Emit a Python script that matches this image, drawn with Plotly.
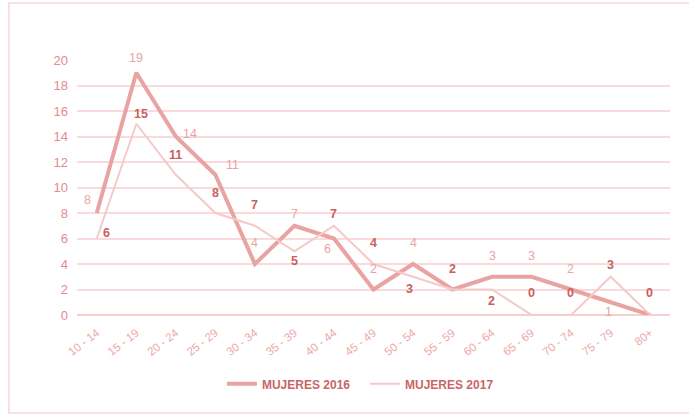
import plotly.graph_objects as go

categories = ["10 - 14", "15 - 19", "20 - 24", "25 - 29", "30 - 34", "35 - 39", "40 - 44",
              "45 - 49", "50 - 54", "55 - 59", "60 - 64", "65 - 69", "70 - 74", "75 - 79", "80+"]
mujeres_2016 = [8, 19, 14, 11, 4, 7, 6, 2, 4, 2, 3, 3, 2, 1, 0]
mujeres_2017 = [6, 15, 11, 8, 7, 5, 7, 4, 3, 2, 2, 0, 0, 3, 0]
y_ticks = [0, 2, 4, 6, 8, 10, 12, 14, 16, 18, 20]

# label visibility / pixel offsets (style)
show_2016 = [True] * 9 + [False] + [True] * 4 + [False]
dx_2016 = [-9, 0, 14, 17, 0, 0, -6, 0, 0, 0, 0, 0, -1, -2, 0]
dy_2016 = [13, 15, 3, 10, 21, 12, -10, 21, 21, 0, 21, 21, 21, -10, 0]
dx_2017 = [10, 5, 0, 0, 0, 0, 0, 0, -4, 0, -1, 0, -1, 0, -1]
dy_2017 = [6, 10, 20, 20, 21, -10, 12, 21, -12, 21, -11, 22, 22, 12, 22]

FONT = "Liberation Sans"
C16 = "#E9A3A3"
C17 = "#F6C9C9"
LBL16 = "#E9A4A4"
LBL17 = "#C85F5F"

fig = go.Figure()
fig.add_trace(go.Scatter(
    x=categories, y=mujeres_2016, mode="lines", name="<b>MUJERES 2016</b>&nbsp;&nbsp;&nbsp;",
    line=dict(color=C16, width=4),
))
fig.add_trace(go.Scatter(
    x=categories, y=mujeres_2017, mode="lines", name="<b>MUJERES 2017</b>",
    line=dict(color=C17, width=2),
))

annotations = []
for i, (c, v) in enumerate(zip(categories, mujeres_2016)):
    if show_2016[i]:
        annotations.append(dict(x=c, y=v, xref="x", yref="y", text=str(v), showarrow=False,
                                xshift=dx_2016[i], yshift=dy_2016[i],
                                font=dict(family=FONT, size=12.5, color=LBL16)))
for i, (c, v) in enumerate(zip(categories, mujeres_2017)):
    annotations.append(dict(x=c, y=v, xref="x", yref="y", text=f"<b>{v}</b>", showarrow=False,
                            xshift=dx_2017[i], yshift=dy_2017[i],
                            font=dict(family=FONT, size=12.5, color=LBL17)))

fig.update_layout(
    width=689, height=416,
    margin=dict(l=77, r=19, t=60, b=101),
    paper_bgcolor="white", plot_bgcolor="white",
    font=dict(family=FONT),
    showlegend=True,
    annotations=annotations,
    legend=dict(orientation="h", x=0.478, xanchor="center", y=-0.27, yanchor="middle",
                font=dict(family=FONT, size=12, color="#C86666"),
                itemwidth=30),
    xaxis=dict(range=[-0.5, 14.5], showgrid=False, showline=False, zeroline=False,
               tickangle=-38, tickfont=dict(family=FONT, size=11.5, color="#EDA8A8"),
               ticks="", automargin=False, ticklabelstandoff=8),
    yaxis=dict(range=[0, 20], tickvals=y_ticks, showgrid=True, gridcolor="#FADADA", gridwidth=1.5,
               zeroline=True, zerolinecolor="#F8CFCF", zerolinewidth=2, showline=False,
               tickfont=dict(family=FONT, size=13, color="#E38C8C"), ticklabelstandoff=8,
               automargin=False),
    shapes=[dict(type="rect", xref="paper", yref="paper",
                 x0=(9 - 77) / 593, x1=(720 - 77) / 593,
                 y0=(315 - 413) / 255, y1=(315 - 3) / 255,
                 line=dict(color="#FBE2E2", width=2), fillcolor="rgba(0,0,0,0)", layer="below")],
)

fig.write_html("out.html", post_script="document.body.style.margin='0';",
               config={"displayModeBar": False})
